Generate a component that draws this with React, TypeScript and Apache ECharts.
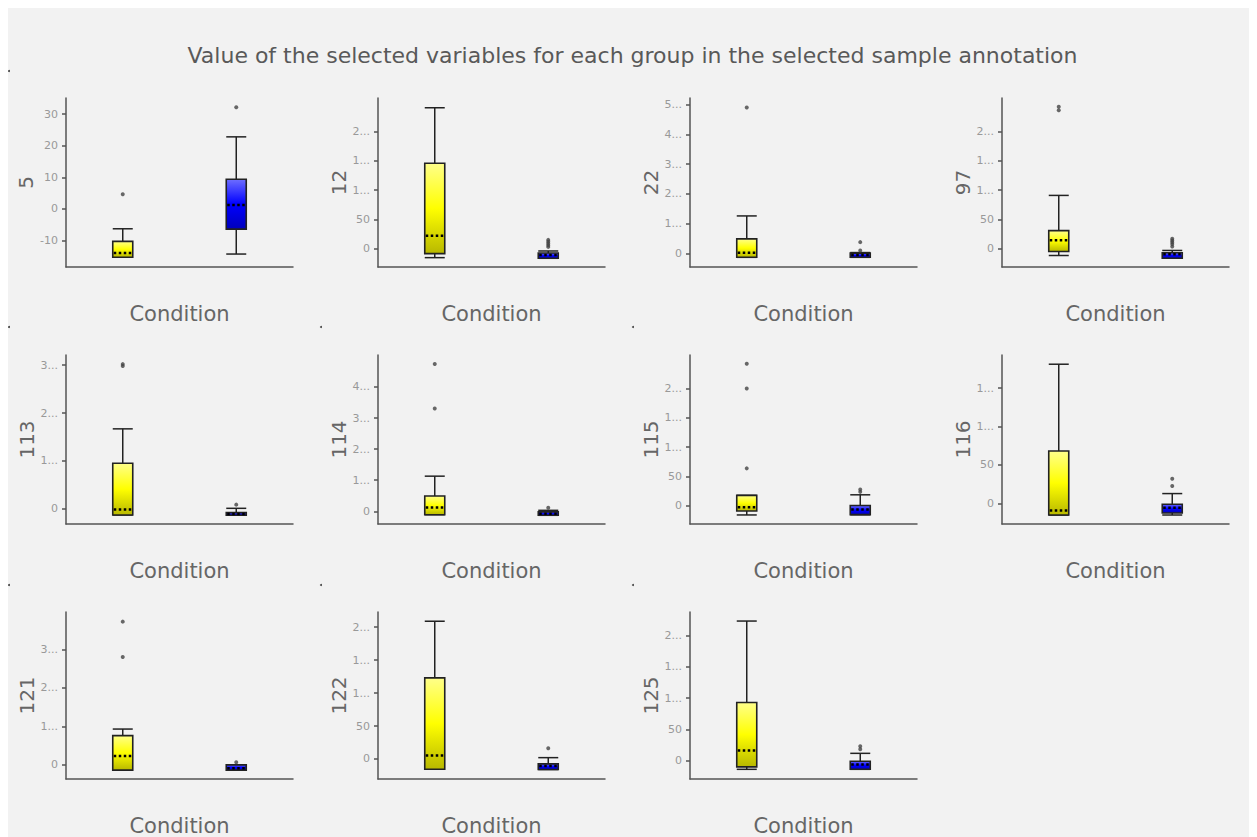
import React, { useEffect, useRef } from "react";
import * as echarts from "echarts";

const chartTitle =
  "Value of the selected variables for each group in the selected sample annotation";
const xAxisName = "Condition";
const categories = ["Group 1", "Group 2"];
const panelNames = ["5", "12", "22", "97", "113", "114", "115", "116", "121", "122", "125"];

// [low, q1, median, q3, high]
const yellowBoxes = [
  [-15.3, -15.3, -14.0, -10.3, -6.3],
  [-15.4, -8.5, 22.2, 146, 241],
  [-13, -13, 2, 49, 126],
  [-11.4, -4.6, 14.7, 31, 91],
  [-12.6, -12.6, -1, 95.4, 167],
  [-11, -11, 12, 49, 113],
  [-15.3, -8.5, -2.2, 18, 18],
  [-15.3, -15.3, -9.5, 68, 181],
  [-13.7, -13.7, 23, 76, 93],
  [-15.5, -15.5, 5.4, 123, 209],
  [-14, -10, 16.3, 93, 223.5],
];
const blueBoxes = [
  [-14.3, -6.4, 1.2, 9.4, 22.8],
  [-16.5, -16.5, -11, -7.5, -4],
  [-13, -13, -5, 1, 3],
  [-16, -16, -9.2, -6.8, -2.8],
  [-13, -13, -10.5, -7.7, 1.3],
  [-13, -13, -8, -2, 3],
  [-15, -14.7, -6, 0.7, 19],
  [-15.3, -12.6, -6, -1.3, 12.6],
  [-13.7, -13.7, -8.5, 0, 0],
  [-16, -16, -10.5, -7.5, 2],
  [-14, -14, -6.3, -1, 11.6],
];
const yellowOutliers = [
  [4.6], [], [490], [236, 242], [298, 302], [331, 474], [64, 200, 242], [], [280, 372], [], [],
];
const blueOutliers = [
  [32.2], [3, 6, 9, 12, 15], [10, 38], [4, 8, 11, 14, 17], [9], [11], [24, 28], [22.6, 32], [7], [16.4], [18, 23],
];
const yMin = [-18.4, -31.4, -45.5, -31, -31.4, -41, -30.7, -27, -36.7, -30.4, -29.5];
const yMax = [35.1, 257.7, 522, 257, 321, 503, 257, 193, 397, 223, 238];
const yTicks = [
  [-10, 0, 10, 20, 30],
  [0, 50, 100, 150, 200],
  [0, 100, 200, 300, 400, 500],
  [0, 50, 100, 150, 200],
  [0, 100, 200, 300],
  [0, 100, 200, 300, 400],
  [0, 50, 100, 150, 200],
  [0, 50, 100, 150],
  [0, 100, 200, 300],
  [0, 50, 100, 150, 200],
  [0, 50, 100, 150, 200],
];
const cornerDots = [
  [0, 63], [0, 319], [312, 319], [624, 319], [0, 577], [312, 577], [624, 577],
];

const FONT = "DejaVu Sans";
const AXIS_COLOR = "#555";
const fills = [
  [
    { offset: 0, color: "#ffff8a" },
    { offset: 0.5, color: "#ffff00" },
    { offset: 1, color: "#b8b800" },
  ],
  [
    { offset: 0, color: "#6e6eff" },
    { offset: 0.5, color: "#0000ff" },
    { offset: 1, color: "#0000bb" },
  ],
];

function tickLabel(v: number): string {
  const s = String(v);
  return Math.abs(v) >= 100 ? s[0] + "..." : s;
}

export default function App() {
  const ref = useRef<HTMLDivElement>(null);
  useEffect(() => {
    document.documentElement.style.overflow = "hidden";
    document.body.style.overflow = "hidden";
    const chart = echarts.init(ref.current!, null, { renderer: "svg" });
    const grids: any[] = [];
    const xAxes: any[] = [];
    const yAxes: any[] = [];
    const series: any[] = [];
    panelNames.forEach((name, i) => {
      const col = i % 4;
      const row = Math.floor(i / 4);
      grids.push({ left: 58 + 312 * col, top: 90 + 257 * row, width: 227, height: 169 });
      xAxes.push({
        type: "category",
        gridIndex: i,
        data: categories,
        boundaryGap: true,
        name: xAxisName,
        nameLocation: "middle",
        nameGap: 36,
        nameTextStyle: { fontSize: 21, color: "#666", fontFamily: FONT },
        axisLine: { onZero: false, lineStyle: { color: AXIS_COLOR, width: 1.5 } },
        axisTick: { alignWithLabel: true, length: 4, lineStyle: { color: AXIS_COLOR, width: 1.5 } },
        axisLabel: { show: false },
        splitLine: { show: false },
      });
      yAxes.push({
        type: "value",
        gridIndex: i,
        min: yMin[i],
        max: yMax[i],
        name,
        nameLocation: "middle",
        nameGap: 29,
        nameTextStyle: { fontSize: 20, color: "#666", fontFamily: FONT },
        axisLine: { show: true, onZero: false, lineStyle: { color: AXIS_COLOR, width: 1.5 } },
        axisTick: {
          show: true,
          length: 4,
          customValues: yTicks[i],
          lineStyle: { color: AXIS_COLOR, width: 1.5 },
        },
        axisLabel: {
          customValues: yTicks[i],
          formatter: (v: number) => tickLabel(v),
          fontSize: 11,
          color: "#999",
          margin: 8,
          fontFamily: FONT,
        },
        splitLine: { show: false },
      });
      const boxData = [
        [0, ...yellowBoxes[i]],
        [1, ...blueBoxes[i]],
      ];
      series.push({
        type: "custom",
        xAxisIndex: i,
        yAxisIndex: i,
        data: boxData,
        encode: { x: 0, y: [1, 2, 3, 4, 5] },
        renderItem: (params: any, api: any) => {
          const cx = api.value(0);
          const pLow = api.coord([cx, api.value(1)]);
          const pQ1 = api.coord([cx, api.value(2)]);
          const pMed = api.coord([cx, api.value(3)]);
          const pQ3 = api.coord([cx, api.value(4)]);
          const pHigh = api.coord([cx, api.value(5)]);
          const x = pMed[0];
          const hw = 10;
          const lineStyle = { stroke: "#222", lineWidth: 1.5 };
          return {
            type: "group",
            children: [
              { type: "line", shape: { x1: x, y1: pQ3[1], x2: x, y2: pHigh[1] }, style: lineStyle },
              { type: "line", shape: { x1: x - hw, y1: pHigh[1], x2: x + hw, y2: pHigh[1] }, style: lineStyle },
              { type: "line", shape: { x1: x, y1: pQ1[1], x2: x, y2: pLow[1] }, style: lineStyle },
              { type: "line", shape: { x1: x - hw, y1: pLow[1], x2: x + hw, y2: pLow[1] }, style: lineStyle },
              {
                type: "rect",
                shape: { x: x - hw, y: pQ3[1], width: 2 * hw, height: Math.max(pQ1[1] - pQ3[1], 1) },
                style: {
                  fill: new echarts.graphic.LinearGradient(0, 0, 0, 1, fills[cx]),
                  stroke: "#222",
                  lineWidth: 1.6,
                },
              },
              {
                type: "line",
                shape: { x1: x - hw + 1, y1: pMed[1], x2: x + hw - 1, y2: pMed[1] },
                style: { stroke: "#000", lineWidth: 2.5, lineDash: [2.5, 2.5] },
              },
            ],
          };
        },
      });
      const outData = [
        ...yellowOutliers[i].map((v) => [0, v]),
        ...blueOutliers[i].map((v) => [1, v]),
      ];
      series.push({
        type: "scatter",
        xAxisIndex: i,
        yAxisIndex: i,
        data: outData,
        symbol: "circle",
        symbolSize: 4,
        itemStyle: { color: "#444" },
      });
    });
    chart.setOption({
      animation: false,
      backgroundColor: "#f2f2f2",
      textStyle: { fontFamily: FONT },
      title: {
        text: chartTitle,
        left: "center",
        top: 36,
        padding: 0,
        textStyle: { fontSize: 22, fontWeight: "normal", color: "#595959", fontFamily: FONT },
      },
      grid: grids,
      xAxis: xAxes,
      yAxis: yAxes,
      series,
      graphic: cornerDots.map(([x, y]) => ({
        type: "circle",
        shape: { cx: x + 1, cy: y, r: 1 },
        style: { fill: "#444" },
      })),
    });
    return () => chart.dispose();
  }, []);
  return <div ref={ref} style={{ width: 1249, height: 829 }} />;
}
